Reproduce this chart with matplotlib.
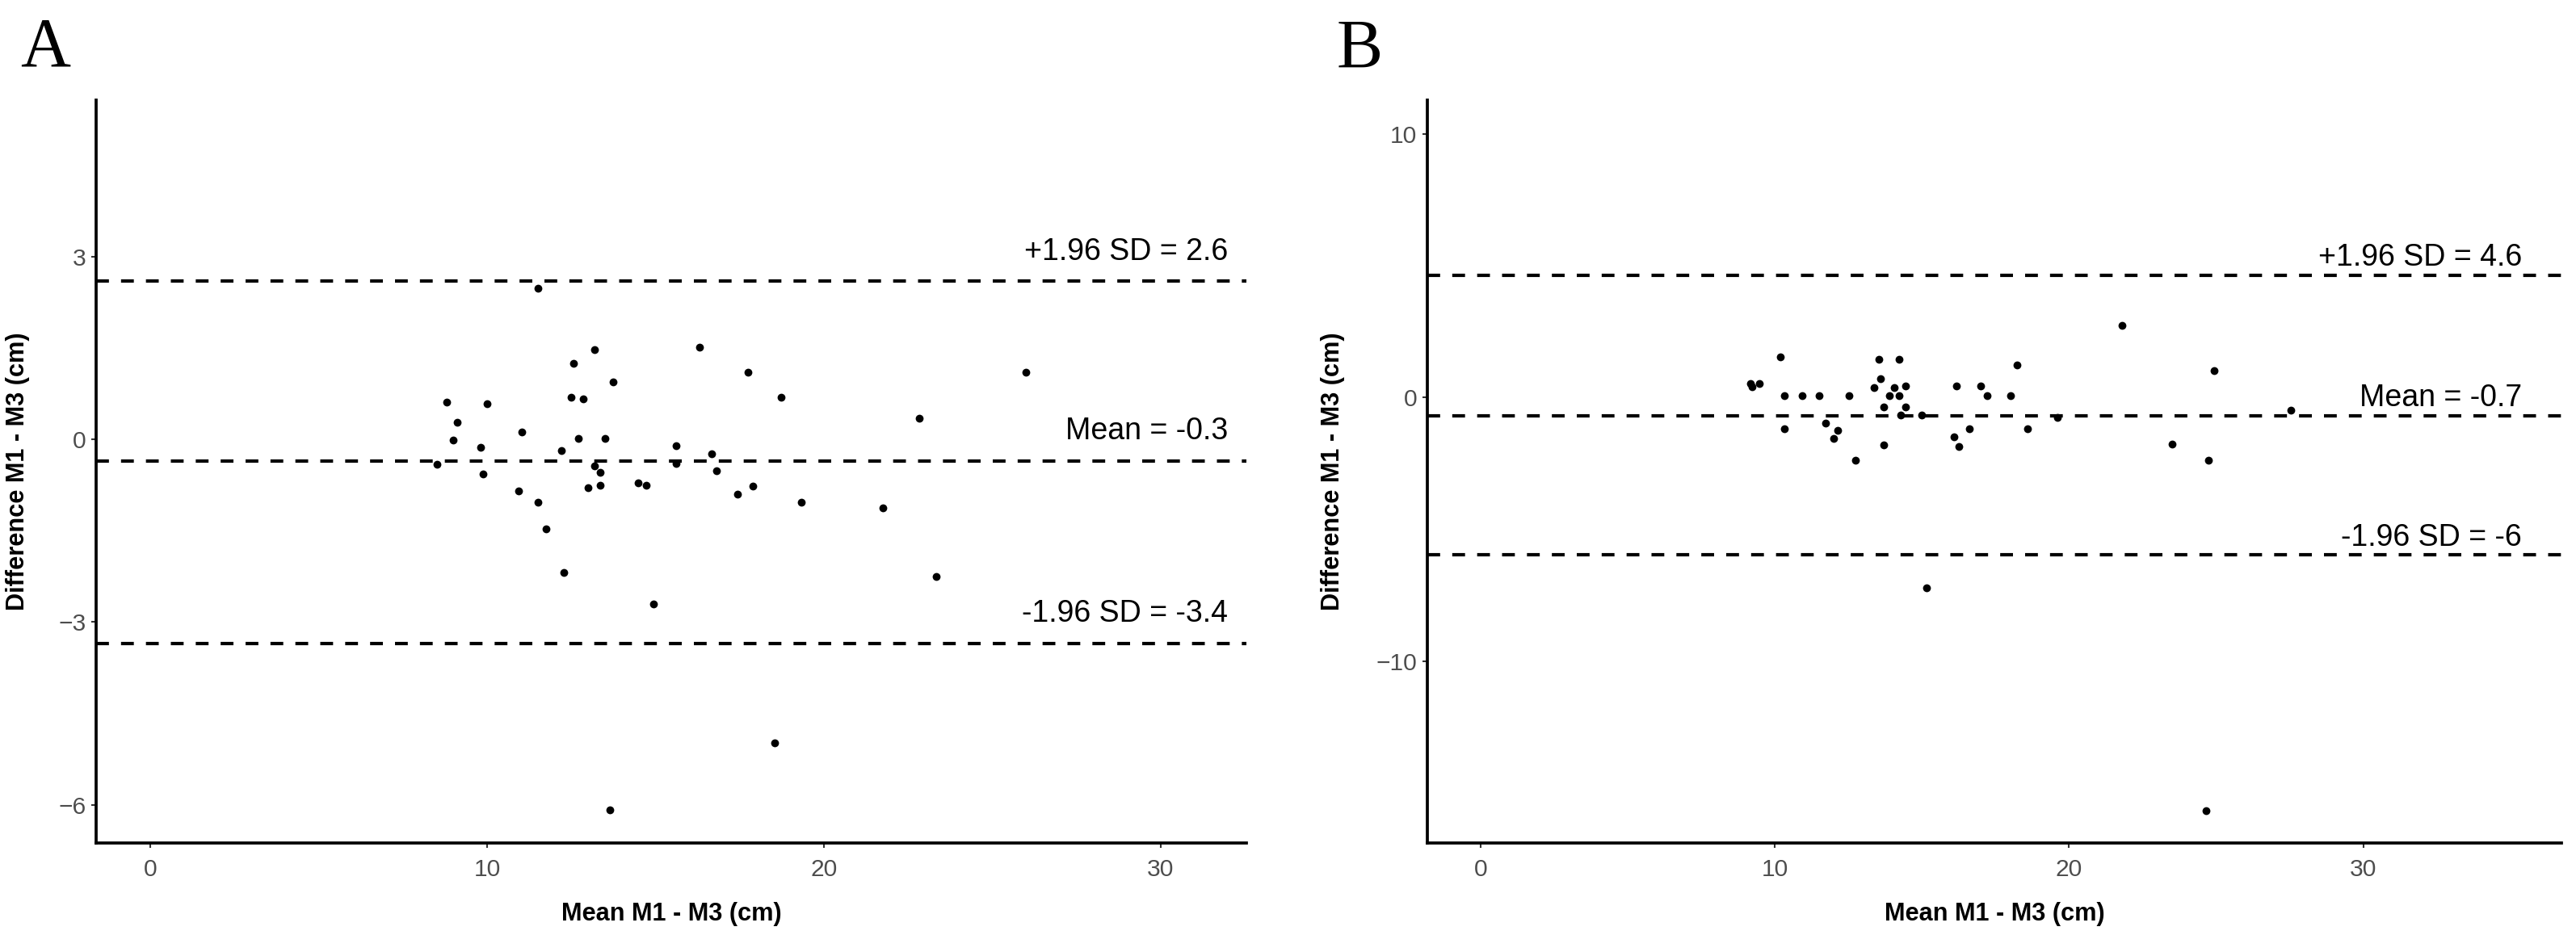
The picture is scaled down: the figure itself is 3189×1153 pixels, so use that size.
import matplotlib
matplotlib.use("Agg")
import matplotlib.pyplot as plt

# Panel A: M1 vs M3
a_mean = [11.50, 13.19, 12.57, 16.31, 17.76, 13.74, 8.79, 10.01, 12.49, 12.85,
          18.73, 9.12, 8.99, 11.04, 9.82, 12.20, 12.72, 13.51, 15.61, 16.68,
          8.52, 9.88, 13.19, 13.37, 15.61, 16.82, 10.94, 11.50, 13.00, 13.37,
          14.48, 14.73, 17.43, 17.90, 19.34, 11.74, 12.29, 14.95, 23.35, 13.65,
          18.53, 26.00, 22.84, 21.76]
a_diff = [2.48, 1.48, 1.25, 1.51, 1.10, 0.94, 0.61, 0.58, 0.69, 0.66,
          0.69, 0.28, -0.01, 0.12, -0.13, -0.18, 0.02, 0.02, -0.11, -0.24,
          -0.41, -0.57, -0.44, -0.54, -0.39, -0.52, -0.85, -1.03, -0.80, -0.75,
          -0.72, -0.75, -0.90, -0.77, -1.03, -1.47, -2.19, -2.71, -2.25, -6.08,
          -4.99, 1.10, 0.35, -1.13]
a_lines = [2.6, -0.35, -3.35]
a_labels = ["+1.96 SD = 2.6", "Mean = -0.3", "-1.96 SD = -3.4"]
a_yticks = [-6, -3, 0, 3]

# Panel B
b_mean = [10.18, 9.16, 9.22, 9.48, 10.33, 10.92, 11.50, 12.52, 13.53, 14.23,
          13.58, 13.37, 14.06, 14.43, 13.90, 14.23, 13.69, 14.43, 14.27, 14.98,
          16.18, 16.99, 17.21, 18.00, 18.22, 19.60, 10.33, 11.72, 12.14, 11.99,
          12.74, 13.69, 16.09, 16.25, 16.62, 18.60, 21.80, 24.93, 27.55, 23.50,
          24.73, 24.67, 15.15]
b_diff = [1.55, 0.55, 0.42, 0.55, 0.07, 0.07, 0.07, 0.07, 1.44, 1.44,
          0.72, 0.37, 0.37, 0.43, 0.07, 0.07, -0.35, -0.35, -0.66, -0.66,
          0.43, 0.43, 0.07, 0.07, 1.25, -0.76, -1.19, -0.95, -1.25, -1.54,
          -2.37, -1.78, -1.48, -1.84, -1.19, -1.19, 2.74, 1.02, -0.49, -1.77,
          -2.37, -15.65, -7.21]
b_lines = [4.65, -0.68, -5.96]
b_labels = ["+1.96 SD = 4.6", "Mean = -0.7", "-1.96 SD = -6"]
b_yticks = [-10, 0, 10]

x_ticks = [0, 10, 20, 30]

W, H = 3189, 1153
SANS = ["Liberation Sans", "DejaVu Sans"]
NARROW = ["Liberation Sans Narrow", "Liberation Sans", "DejaVu Sans"]


def bland_altman(ax, x, y, lines, labels, yticks, xlim, ylim, label_x):
    """Draw one Bland-Altman panel in a ggplot classic look"""
    for val, lab in zip(lines, labels):
        ax.axhline(val, color="black", lw=1.0, ls=(0, (3.8, 3.6)), zorder=1)
        ax.text(label_x, val + 0.35, lab, ha="right", va="baseline",
                fontsize=9, family=SANS, color="black")
    ax.scatter(x, y, s=5.5, color="black", linewidths=0, zorder=3)

    ax.set_xlim(*xlim)
    ax.set_ylim(*ylim)
    ax.set_xticks(x_ticks)
    ax.set_yticks(yticks)
    ax.set_yticklabels([str(t).replace("-", "\u2212") for t in yticks])

    for side in ("top", "right"):
        ax.spines[side].set_visible(False)
    for side in ("left", "bottom"):
        ax.spines[side].set_linewidth(0.9)
        ax.spines[side].set_color("black")
    ax.tick_params(length=1.5, width=0.5, color="#333333", labelcolor="#4d4d4d",
                   labelsize=7.2, pad=1.5)
    ax.tick_params(axis="x", pad=3.0)
    for lbl in ax.get_xticklabels() + ax.get_yticklabels():
        lbl.set_family(SANS)

    ax.set_xlabel("Mean M1 - M3 (cm)", fontsize=7.4, fontweight="bold", family=NARROW)
    ax.set_ylabel("Difference M1 - M3 (cm)", fontsize=7.4, fontweight="bold", family=NARROW)


fig = plt.figure(figsize=(W / 300, H / 300), dpi=300)

ax_a = fig.add_axes([119 / W, 1 - 1044 / H, 1424 / W, 920.5 / H])
bland_altman(ax_a, a_mean, a_diff, a_lines, a_labels, a_yticks,
             (-1.61, 32.55), (-6.63, 5.58), 32.0)
ax_a.yaxis.set_label_coords(-0.0576, 0.5)
ax_a.xaxis.set_label_coords(0.5, -0.079)

ax_b = fig.add_axes([1766.7 / W, 1 - 1044 / H, 1404.3 / W, 920.5 / H])
bland_altman(ax_b, b_mean, b_diff, b_lines, b_labels, b_yticks,
             (-1.82, 36.74), (-16.89, 11.30), 35.4)
ax_b.yaxis.set_label_coords(-0.0724, 0.5)
ax_b.xaxis.set_label_coords(0.5, -0.079)

# panel letters
fig.text(25 / W, 1 - 82 / H, "A", fontsize=20.6, family=["Liberation Serif", "DejaVu Serif"],
         ha="left", va="baseline")
fig.text(1655 / W, 1 - 84 / H, "B", fontsize=20.6, family=["Liberation Serif", "DejaVu Serif"],
         ha="left", va="baseline")

fig.savefig("out.png", dpi=300)
